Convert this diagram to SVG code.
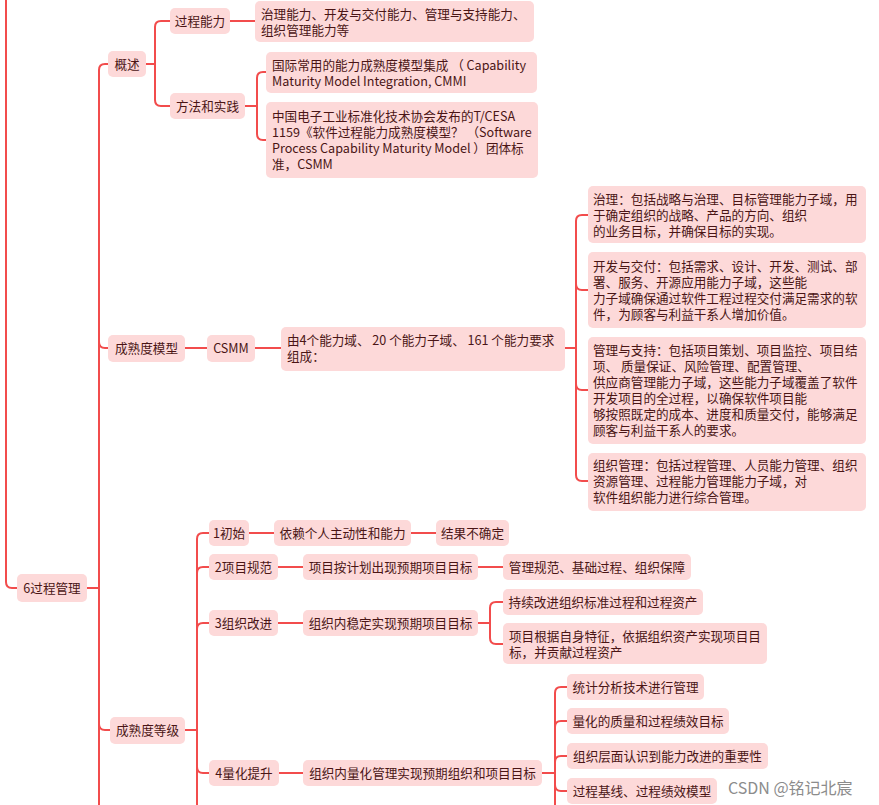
<svg xmlns="http://www.w3.org/2000/svg" width="879" height="805" viewBox="0 0 879 805">
<style>
.n rect{fill:#fdd9d9;}
.n text{font-family:"Noto Sans CJK SC","Noto Sans",sans-serif;font-size:12.6px;fill:#4a1515;}
.c{fill:none;stroke:#f24c4c;stroke-width:2;stroke-linecap:round;}
.m{text-anchor:middle;}
.wm{font-family:"Noto Sans CJK SC","Noto Sans",sans-serif;font-size:16px;fill:#8c8c8c;}
</style>
<rect width="879" height="805" fill="#ffffff"/>
<g id="connectors" class="c">
<path d="M6,0 V582 Q6,588 12,588 H17"/>
<path d="M87,588 H99 V70 Q99,64 105,64 H108"/>
<path d="M99,588 V342 Q99,348 105,348 H108"/>
<path d="M99,588 V724 Q99,730 105,730 H110"/>
<path d="M99,724 V805"/>
<path d="M146,64 H155 V27 Q155,21 161,21 H170"/>
<path d="M146,64 H155 V100 Q155,106 161,106 H170"/>
<path d="M230,21 H255"/>
<path d="M245,106 H257 V78 Q257,72 263,72 H266"/>
<path d="M245,106 H257 V134 Q257,140 263,140 H266"/>
<path d="M185,348 H207"/>
<path d="M255,348 H281"/>
<path d="M565,348 H576 V221 Q576,215 582,215 H588"/>
<path d="M565,348 H576 V284 Q576,290 582,290 H588"/>
<path d="M565,348 H576 V384 Q576,390 582,390 H588"/>
<path d="M565,348 H576 V475 Q576,481 582,481 H588"/>
<path d="M185,730 H197 V539 Q197,533 203,533 H209"/>
<path d="M197,730 V573 Q197,567 203,567 H209"/>
<path d="M197,730 V629 Q197,623 203,623 H209"/>
<path d="M197,730 V767 Q197,773 203,773 H209"/>
<path d="M197,767 V805"/>
<path d="M249,533 H274"/>
<path d="M411,533 H436"/>
<path d="M278,567 H303"/>
<path d="M478,567 H503"/>
<path d="M278,623 H303"/>
<path d="M478,623 H490 V608 Q490,602 496,602 H503"/>
<path d="M478,623 H490 V638 Q490,644 496,644 H503"/>
<path d="M279,773 H303"/>
<path d="M542,773 H555 V693 Q555,687 561,687 H567"/>
<path d="M555,773 V727 Q555,721 561,721 H567"/>
<path d="M555,773 V762 Q555,756 561,756 H567"/>
<path d="M555,773 V785 Q555,791 561,791 H567"/>
<path d="M555,785 V805"/>
</g>
<g id="n-root" class="n"><rect x="17" y="574" width="70" height="28" rx="5"/><text class="m" x="52" y="593">6过程管理</text></g>
<g id="n-gaishu" class="n"><rect x="108" y="51" width="38" height="26" rx="5"/><text class="m" x="127" y="68.5">概述</text></g>
<g id="n-guocheng" class="n"><rect x="170" y="8" width="60" height="26" rx="5"/><text class="m" x="200" y="25.5">过程能力</text></g>
<g id="n-guocheng-d" class="n"><rect x="255" y="1" width="279" height="41" rx="5"/><text><tspan x="261" y="18.5">治理能力、开发与交付能力、管理与支持能力、</tspan><tspan x="261" y="34.5">组织管理能力等</tspan></text></g>
<g id="n-fangfa" class="n"><rect x="170" y="93" width="75" height="26" rx="5"/><text class="m" x="207.5" y="110.5">方法和实践</text></g>
<g id="n-cmmi" class="n"><rect x="266" y="52" width="271" height="41" rx="5"/><text><tspan x="272" y="69.5">国际常用的能力成熟度模型集成 （ Capability</tspan><tspan x="272" y="85.5">Maturity Model Integration, CMMI</tspan></text></g>
<g id="n-csmm-std" class="n"><rect x="266" y="102" width="272" height="76" rx="5"/><text><tspan x="272" y="120.5">中国电子工业标准化技术协会发布的T/CESA</tspan><tspan x="272" y="136.5">1159《软件过程能力成熟度模型？ （Software</tspan><tspan x="272" y="152.5">Process Capability Maturity Model ）团体标</tspan><tspan x="272" y="168.5">准，CSMM</tspan></text></g>
<g id="n-mm" class="n"><rect x="108" y="335" width="77" height="27" rx="5"/><text class="m" x="146.5" y="353">成熟度模型</text></g>
<g id="n-csmm" class="n"><rect x="207" y="335" width="48" height="27" rx="5"/><text class="m" x="231" y="353">CSMM</text></g>
<g id="n-csmm-desc" class="n"><rect x="281" y="327" width="284" height="44" rx="5"/><text><tspan x="287" y="344.5">由4个能力域、 20 个能力子域、 161 个能力要求</tspan><tspan x="287" y="360.5">组成：</tspan></text></g>
<g id="n-zl" class="n"><rect x="588" y="186" width="278" height="57" rx="5"/><text><tspan x="593" y="203.5">治理：包括战略与治理、目标管理能力子域，用</tspan><tspan x="593" y="219.5">于确定组织的战略、产品的方向、组织</tspan><tspan x="593" y="235.5">的业务目标，并确保目标的实现。</tspan></text></g>
<g id="n-kf" class="n"><rect x="588" y="252" width="278" height="76" rx="5"/><text><tspan x="593" y="271">开发与交付：包括需求、设计、开发、测试、部</tspan><tspan x="593" y="287">署、服务、开源应用能力子域，这些能</tspan><tspan x="593" y="303">力子域确保通过软件工程过程交付满足需求的软</tspan><tspan x="593" y="319">件，为顾客与利益干系人增加价值。</tspan></text></g>
<g id="n-gl" class="n"><rect x="588" y="337" width="278" height="107" rx="5"/><text><tspan x="593" y="354.5">管理与支持：包括项目策划、项目监控、项目结</tspan><tspan x="593" y="370.5">项、 质量保证、风险管理、配置管理、</tspan><tspan x="593" y="386.5">供应商管理能力子域，这些能力子域覆盖了软件</tspan><tspan x="593" y="402.5">开发项目的全过程，以确保软件项目能</tspan><tspan x="593" y="418.5">够按照既定的成本、进度和质量交付，能够满足</tspan><tspan x="593" y="434.5">顾客与利益干系人的要求。</tspan></text></g>
<g id="n-zz" class="n"><rect x="588" y="453" width="278" height="58" rx="5"/><text><tspan x="593" y="470">组织管理：包括过程管理、人员能力管理、组织</tspan><tspan x="593" y="486">资源管理、过程能力管理能力子域，对</tspan><tspan x="593" y="502">软件组织能力进行综合管理。</tspan></text></g>
<g id="n-level" class="n"><rect x="110" y="717" width="75" height="27" rx="5"/><text class="m" x="147.5" y="735">成熟度等级</text></g>
<g id="n-l1" class="n"><rect x="209" y="520" width="40" height="26" rx="5"/><text class="m" x="229" y="537.5">1初始</text></g>
<g id="n-l1a" class="n"><rect x="274" y="520" width="137" height="26" rx="5"/><text class="m" x="342.5" y="537.5">依赖个人主动性和能力</text></g>
<g id="n-l1b" class="n"><rect x="436" y="520" width="73" height="26" rx="5"/><text class="m" x="472.5" y="537.5">结果不确定</text></g>
<g id="n-l2" class="n"><rect x="209" y="554" width="69" height="26" rx="5"/><text class="m" x="243.5" y="571.5">2项目规范</text></g>
<g id="n-l2a" class="n"><rect x="303" y="554" width="175" height="26" rx="5"/><text class="m" x="390.5" y="571.5">项目按计划出现预期项目目标</text></g>
<g id="n-l2b" class="n"><rect x="503" y="554" width="188" height="26" rx="5"/><text class="m" x="597" y="571.5">管理规范、基础过程、组织保障</text></g>
<g id="n-l3" class="n"><rect x="209" y="610" width="69" height="26" rx="5"/><text class="m" x="243.5" y="627.5">3组织改进</text></g>
<g id="n-l3a" class="n"><rect x="303" y="610" width="175" height="26" rx="5"/><text class="m" x="390.5" y="627.5">组织内稳定实现预期项目目标</text></g>
<g id="n-l3b" class="n"><rect x="503" y="589" width="200" height="26" rx="5"/><text class="m" x="603" y="606.5">持续改进组织标准过程和过程资产</text></g>
<g id="n-l3c" class="n"><rect x="503" y="623" width="264" height="41" rx="5"/><text><tspan x="509" y="640.5">项目根据自身特征，依据组织资产实现项目目</tspan><tspan x="509" y="656.5">标，并贡献过程资产</tspan></text></g>
<g id="n-l4" class="n"><rect x="209" y="760" width="70" height="26" rx="5"/><text class="m" x="244" y="777.5">4量化提升</text></g>
<g id="n-l4a" class="n"><rect x="303" y="760" width="239" height="26" rx="5"/><text class="m" x="422.5" y="777.5">组织内量化管理实现预期组织和项目目标</text></g>
<g id="n-l4b" class="n"><rect x="567" y="674" width="137" height="26" rx="5"/><text class="m" x="635.5" y="691.5">统计分析技术进行管理</text></g>
<g id="n-l4c" class="n"><rect x="567" y="708" width="162" height="26" rx="5"/><text class="m" x="648" y="725.5">量化的质量和过程绩效目标</text></g>
<g id="n-l4d" class="n"><rect x="567" y="743" width="201" height="26" rx="5"/><text class="m" x="667.5" y="760.5">组织层面认识到能力改进的重要性</text></g>
<g id="n-l4e" class="n"><rect x="567" y="778" width="150" height="26" rx="5"/><text class="m" x="642" y="795.5">过程基线、过程绩效模型</text></g>
<text class="wm" x="728" y="794">CSDN @铭记北宸</text>
</svg>
